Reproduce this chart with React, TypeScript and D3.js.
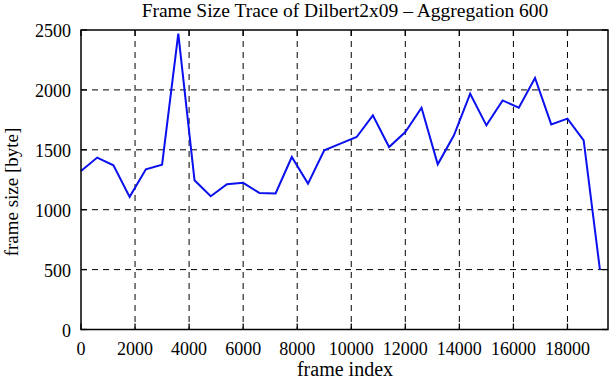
import React from "react";
import * as d3 from "d3";

const frameIndex = [0,600,1200,1800,2400,3000,3600,4200,4800,5400,6000,6600,7200,7800,8400,9000,9600,10200,10800,11400,12000,12600,13200,13800,14400,15000,15600,16200,16800,17400,18000,18600,19200];
const frameSize = [1323,1435,1371,1107,1337,1376,2470,1246,1112,1212,1224,1140,1135,1440,1218,1496,1551,1607,1787,1523,1648,1851,1379,1621,1968,1704,1912,1851,2099,1712,1760,1579,501];
const xTicks = [0,2000,4000,6000,8000,10000,12000,14000,16000,18000];
const yTicks = [0,500,1000,1500,2000,2500];
const title = "Frame Size Trace of Dilbert2x09 \u2013 Aggregation 600";
const xLabel = "frame index";
const yLabel = "frame size [byte]";

export default function App() {
  const W = 611, H = 380;
  const left = 81, right = 608, top = 30, bottom = 329.5;
  const x = d3.scaleLinear().domain([0, 19500]).range([left, right]);
  const y = d3.scaleLinear().domain([0, 2500]).range([bottom, top]);
  const line = d3.line<number>().x((_, i) => x(frameIndex[i])).y((d) => y(d));
  const font = "'Liberation Serif', 'Times New Roman', serif";
  const tl = 6;
  return (
    <svg width={W} height={H} style={{ position: "absolute", left: 0, top: 0, background: "#fff" }} fontFamily={font}>
      <rect x={0} y={0} width={W} height={H} fill="#fff" />
      {xTicks.filter(t => t > 0).map(t => (
        <line key={"gx" + t} x1={x(t)} x2={x(t)} y1={top} y2={bottom} stroke="#000" strokeWidth={1} strokeDasharray="6,5" />
      ))}
      {yTicks.filter(t => t > 0 && t < 2500).map(t => (
        <line key={"gy" + t} x1={left} x2={right} y1={y(t)} y2={y(t)} stroke="#000" strokeWidth={1} strokeDasharray="6,5" />
      ))}
      {xTicks.map(t => (
        <g key={"tx" + t}>
          <line x1={x(t)} x2={x(t)} y1={bottom} y2={bottom - tl} stroke="#000" strokeWidth={1.3} />
          <line x1={x(t)} x2={x(t)} y1={top} y2={top + tl} stroke="#000" strokeWidth={1.3} />
          <text x={x(t)} y={355} textAnchor="middle" fontSize={18}>{t}</text>
        </g>
      ))}
      {yTicks.map(t => (
        <g key={"ty" + t}>
          <line x1={left} x2={left + tl} y1={y(t)} y2={y(t)} stroke="#000" strokeWidth={1.3} />
          <line x1={right} x2={right - tl} y1={y(t)} y2={y(t)} stroke="#000" strokeWidth={1.3} />
          <text x={71} y={y(t) + 7} textAnchor="end" fontSize={18}>{t}</text>
        </g>
      ))}
      <path d={line(frameSize) || ""} fill="none" stroke="#0a10ee" strokeWidth={2} strokeLinejoin="miter" />
      <rect x={left} y={top} width={right - left} height={bottom - top} fill="none" stroke="#000" strokeWidth={1.5} />
      <text x={345} y={17} textAnchor="middle" fontSize={19.5}>{title}</text>
      <text x={345} y={376} textAnchor="middle" fontSize={20}>{xLabel}</text>
      <text transform={`translate(18,192) rotate(-90)`} textAnchor="middle" fontSize={19}>{yLabel}</text>
    </svg>
  );
}
